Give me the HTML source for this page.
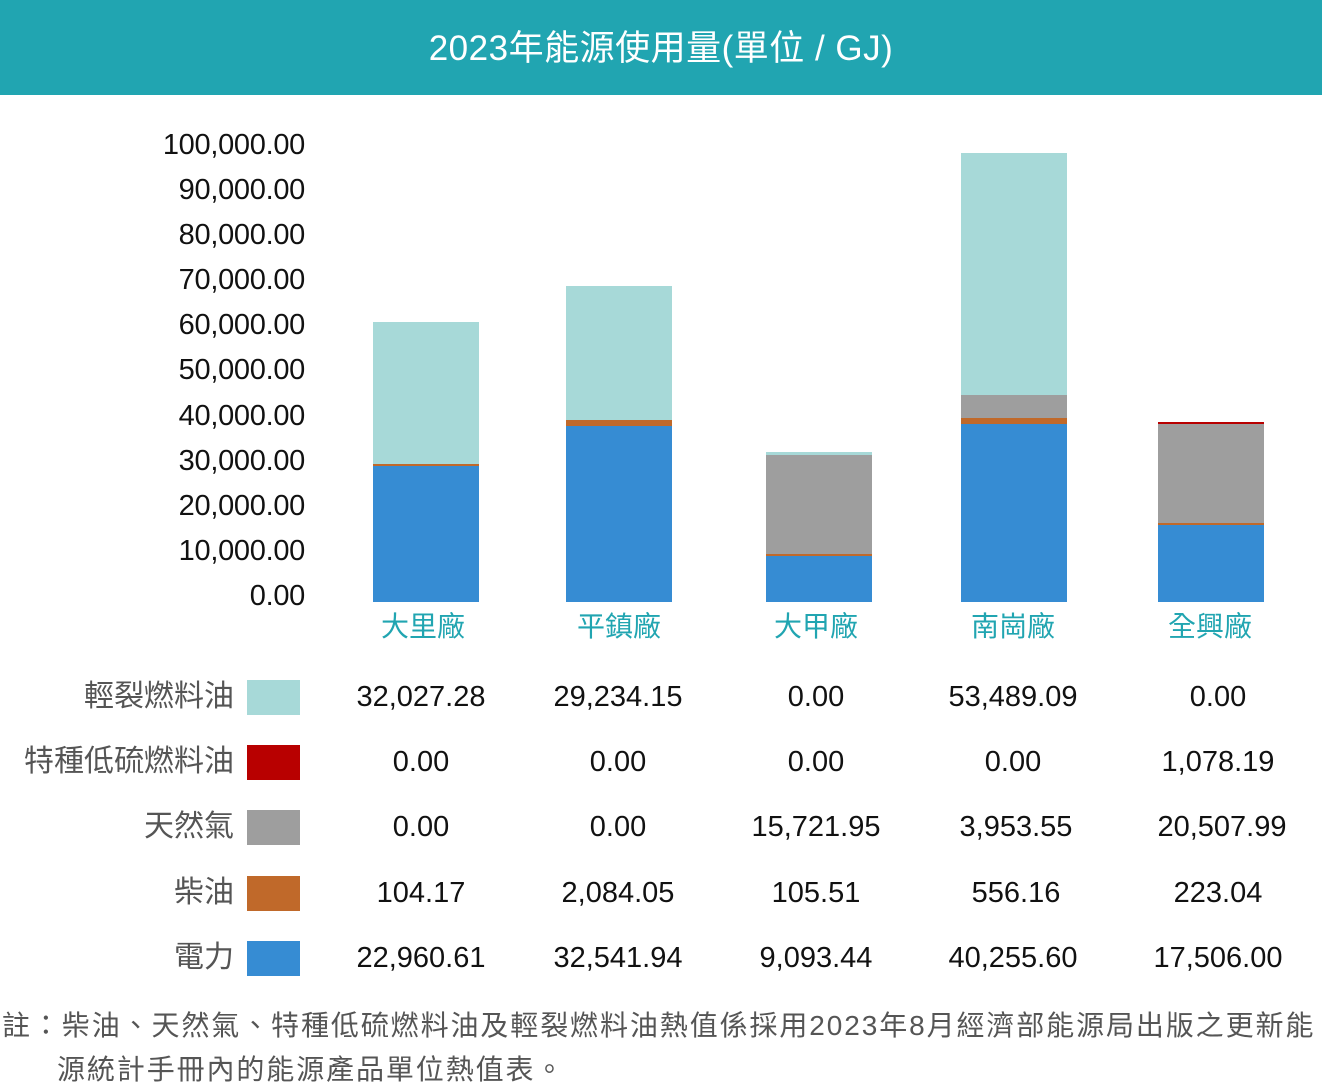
<!DOCTYPE html>
<html><head><meta charset="utf-8"><style>
body{margin:0;width:1322px;height:1088px;background:#fff;position:relative;overflow:hidden;font-family:"Liberation Sans","Noto Sans CJK TC",sans-serif}
.hdr{position:absolute;left:0;top:0;width:1322px;height:95px;background:#21a5b1;color:#fff;font-size:35px;text-align:center;line-height:98px;letter-spacing:0.5px}
.t{position:absolute;right:1017px;font-size:29px;color:#111;letter-spacing:-0.3px;line-height:30px}
.b{position:absolute}
.cat{position:absolute;font-size:28px;color:#21a5b1;width:200px;text-align:center;line-height:30px}
.lab{position:absolute;right:1088px;font-size:30px;color:#555;line-height:34px;white-space:nowrap}
.sw{position:absolute;left:247px;width:53px;height:35px}
.v{position:absolute;width:200px;text-align:center;font-size:29px;color:#111;line-height:34px}
.note{position:absolute;left:2px;top:1004px;font-size:28px;color:#555;line-height:44px;width:1320px;letter-spacing:1.9px;white-space:nowrap}
</style></head><body>
<div class="hdr">2023年能源使用量(單位 / GJ)</div>
<div class="t" style="top:130px">100,000.00</div>
<div class="t" style="top:175px">90,000.00</div>
<div class="t" style="top:220px">80,000.00</div>
<div class="t" style="top:265px">70,000.00</div>
<div class="t" style="top:310px">60,000.00</div>
<div class="t" style="top:355px">50,000.00</div>
<div class="t" style="top:401px">40,000.00</div>
<div class="t" style="top:446px">30,000.00</div>
<div class="t" style="top:491px">20,000.00</div>
<div class="t" style="top:536px">10,000.00</div>
<div class="t" style="top:581px">0.00</div>
<div class="b" style="left:373px;width:106px;top:322px;height:142px;background:#a7d9d8"></div>
<div class="b" style="left:373px;width:106px;top:464px;height:2px;background:#c0692a"></div>
<div class="b" style="left:373px;width:106px;top:466px;height:136px;background:#368cd3"></div>
<div class="b" style="left:566px;width:106px;top:286px;height:134px;background:#a7d9d8"></div>
<div class="b" style="left:566px;width:106px;top:420px;height:6px;background:#c0692a"></div>
<div class="b" style="left:566px;width:106px;top:426px;height:176px;background:#368cd3"></div>
<div class="b" style="left:766px;width:106px;top:452px;height:3px;background:#a7d9d8"></div>
<div class="b" style="left:766px;width:106px;top:455px;height:99px;background:#9e9e9e"></div>
<div class="b" style="left:766px;width:106px;top:554px;height:2px;background:#c0692a"></div>
<div class="b" style="left:766px;width:106px;top:556px;height:46px;background:#368cd3"></div>
<div class="b" style="left:961px;width:106px;top:153px;height:242px;background:#a7d9d8"></div>
<div class="b" style="left:961px;width:106px;top:395px;height:23px;background:#9e9e9e"></div>
<div class="b" style="left:961px;width:106px;top:418px;height:6px;background:#c0692a"></div>
<div class="b" style="left:961px;width:106px;top:424px;height:178px;background:#368cd3"></div>
<div class="b" style="left:1158px;width:106px;top:422px;height:2px;background:#b80000"></div>
<div class="b" style="left:1158px;width:106px;top:424px;height:99px;background:#9e9e9e"></div>
<div class="b" style="left:1158px;width:106px;top:523px;height:2px;background:#c0692a"></div>
<div class="b" style="left:1158px;width:106px;top:525px;height:77px;background:#368cd3"></div>
<div class="cat" style="left:323px;top:612px">大里廠</div>
<div class="cat" style="left:519px;top:612px">平鎮廠</div>
<div class="cat" style="left:716px;top:612px">大甲廠</div>
<div class="cat" style="left:913px;top:612px">南崗廠</div>
<div class="cat" style="left:1110px;top:612px">全興廠</div>

<div class="lab" style="top:680px">輕裂燃料油</div><div class="sw" style="top:680px;background:#a7d9d8"></div>
<div class="lab" style="top:745px">特種低硫燃料油</div><div class="sw" style="top:745px;background:#b80000"></div>
<div class="lab" style="top:810px">天然氣</div><div class="sw" style="top:810px;background:#9e9e9e"></div>
<div class="lab" style="top:876px">柴油</div><div class="sw" style="top:876px;background:#c0692a"></div>
<div class="lab" style="top:941px">電力</div><div class="sw" style="top:941px;background:#368cd3"></div>

<div class="v" style="left:321px;top:680px">32,027.28</div>
<div class="v" style="left:518px;top:680px">29,234.15</div>
<div class="v" style="left:716px;top:680px">0.00</div>
<div class="v" style="left:913px;top:680px">53,489.09</div>
<div class="v" style="left:1118px;top:680px">0.00</div>

<div class="v" style="left:321px;top:745px">0.00</div>
<div class="v" style="left:518px;top:745px">0.00</div>
<div class="v" style="left:716px;top:745px">0.00</div>
<div class="v" style="left:913px;top:745px">0.00</div>
<div class="v" style="left:1118px;top:745px">1,078.19</div>

<div class="v" style="left:321px;top:810px">0.00</div>
<div class="v" style="left:518px;top:810px">0.00</div>
<div class="v" style="left:716px;top:810px">15,721.95</div>
<div class="v" style="left:916px;top:810px">3,953.55</div>
<div class="v" style="left:1122px;top:810px">20,507.99</div>

<div class="v" style="left:321px;top:876px">104.17</div>
<div class="v" style="left:518px;top:876px">2,084.05</div>
<div class="v" style="left:716px;top:876px">105.51</div>
<div class="v" style="left:916px;top:876px">556.16</div>
<div class="v" style="left:1118px;top:876px">223.04</div>

<div class="v" style="left:321px;top:941px">22,960.61</div>
<div class="v" style="left:518px;top:941px">32,541.94</div>
<div class="v" style="left:716px;top:941px">9,093.44</div>
<div class="v" style="left:913px;top:941px">40,255.60</div>
<div class="v" style="left:1118px;top:941px">17,506.00</div>

<div class="note">註：柴油、天然氣、特種低硫燃料油及輕裂燃料油熱值係採用2023年8月經濟部能源局出版之更新能<br><span style="padding-left:55px">源統計手冊內的能源產品單位熱值表。</span></div>
</body></html>
